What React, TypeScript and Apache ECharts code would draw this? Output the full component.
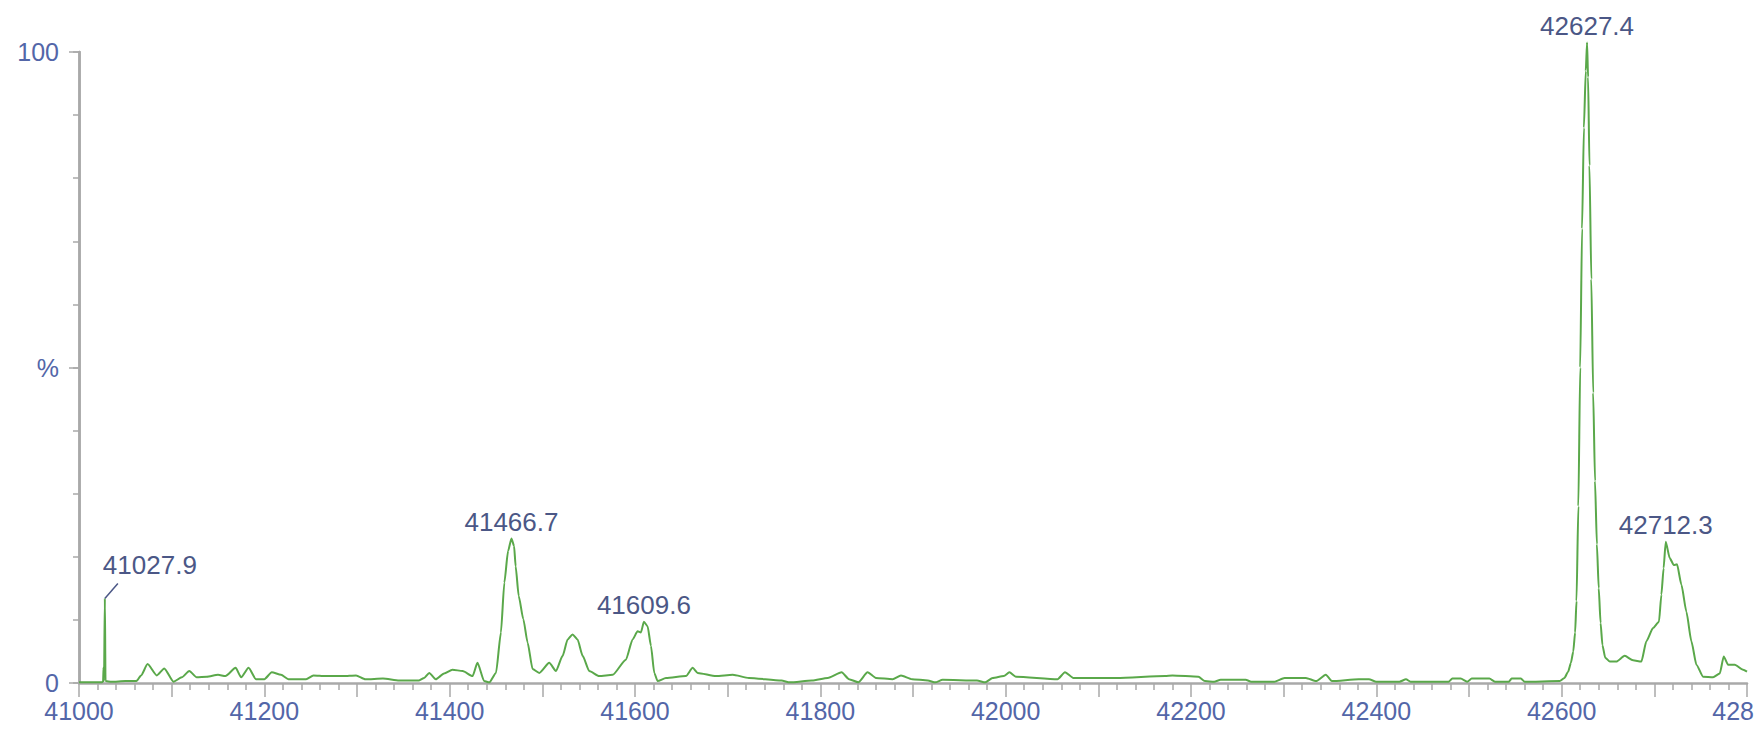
import React, { useEffect, useRef } from "react";
import * as echarts from "echarts";

// Deconvoluted mass spectrum: m/z (Da) and relative intensity (%)
const massAxis = [
  41000, 41012, 41024, 41026, 41026.5, 41027, 41027.9, 41028.6, 41035, 41050,
  41062, 41067, 41074, 41084, 41092, 41102, 41111, 41119, 41127, 41138,
  41150, 41158, 41169, 41175, 41183, 41191, 41200, 41208, 41218, 41226,
  41245, 41253, 41266, 41285, 41299, 41309, 41328, 41345.5, 41367, 41372.5,
  41378, 41385, 41394, 41403, 41414, 41424.7, 41430, 41437.3, 41442.7, 41450,
  41455.3, 41459, 41463, 41466.7, 41469.5, 41471.2, 41474.5, 41479.5, 41484.1, 41489.5,
  41496.7, 41507.5, 41514.7, 41521.9, 41527.3, 41532.6, 41538, 41543.5, 41550.6, 41561.4,
  41575.9, 41590.2, 41597.4, 41602.8, 41606.4, 41609.6, 41613.6, 41617.2, 41620.8, 41624.4,
  41633.4, 41655, 41662.2, 41667.6, 41687.4, 41705.4, 41723, 41758, 41767, 41791,
  41808, 41823, 41831, 41841, 41851, 41860, 41878, 41887, 41899, 41916,
  41924, 41932, 41969, 41978, 41986, 41998, 42004, 42011, 42056, 42064,
  42073, 42120, 42172, 42180, 42208, 42215, 42225, 42232, 42259, 42265,
  42290, 42301, 42324, 42335, 42345.5, 42352, 42381, 42392, 42400, 42425,
  42432, 42437, 42478, 42482, 42491, 42498, 42503, 42522, 42528, 42543,
  42546, 42556, 42560, 42598, 42603, 42607, 42610, 42612.5, 42614.5, 42616,
  42618, 42620, 42622, 42624, 42626, 42627.4, 42628.5, 42630, 42632, 42634,
  42636, 42638, 42640, 42642, 42644, 42647, 42652, 42659, 42668, 42677,
  42686, 42691.4, 42698.6, 42705, 42707.6, 42710, 42712.3, 42716.6, 42721, 42724.5,
  42729.2, 42734.6, 42740, 42745.4, 42752.6, 42763.4, 42770.6, 42774.9, 42779.6, 42786.8,
  42795.8, 42800,
];

const intensity = [
  0.1, 0.1, 0.1, 0.2, 2.5, 0.3, 13.4, 0.3, 0.2, 0.3,
  0.3, 1.2, 3.0, 1.2, 2.3, 0.2, 0.9, 1.9, 0.9, 1.0,
  1.3, 1.1, 2.4, 0.9, 2.4, 0.6, 0.6, 1.7, 1.3, 0.6,
  0.6, 1.2, 1.1, 1.1, 1.2, 0.6, 0.7, 0.4, 0.4, 0.8,
  1.6, 0.6, 1.5, 2.1, 1.9, 1.1, 3.2, 0.3, 0.1, 1.6,
  8.0, 15.9, 20.9, 22.9, 21.7, 18.5, 13.8, 10.1, 6.4, 2.2,
  1.6, 3.2, 1.9, 4.3, 6.9, 7.7, 6.9, 4.3, 1.9, 1.1,
  1.3, 3.7, 6.9, 8.2, 8.0, 9.7, 9.0, 5.9, 1.6, 0.3,
  0.8, 1.1, 2.4, 1.6, 1.1, 1.3, 0.8, 0.4, 0.1, 0.4,
  0.8, 1.7, 0.6, 0.1, 1.7, 0.8, 0.6, 1.2, 0.6, 0.4,
  0.1, 0.5, 0.4, 0.1, 0.8, 1.1, 1.7, 1.0, 0.6, 1.7,
  0.8, 0.8, 1.1, 1.2, 1.0, 0.3, 0.2, 0.5, 0.5, 0.2,
  0.2, 0.8, 0.8, 0.3, 1.3, 0.3, 0.6, 0.6, 0.2, 0.2,
  0.6, 0.2, 0.2, 0.7, 0.7, 0.2, 0.7, 0.7, 0.2, 0.2,
  0.7, 0.7, 0.2, 0.3, 0.8, 1.8, 3.2, 5.0, 8.0, 13,
  28, 50, 72, 88, 97, 101.5, 96, 82, 64, 46,
  32, 22, 15, 9.5, 6.0, 4.0, 3.4, 3.4, 4.3, 3.6,
  3.4, 6.6, 8.7, 9.7, 14, 18.2, 22.4, 19.8, 18.7, 18.8,
  15.6, 11.3, 6.6, 2.9, 1.0, 0.9, 1.5, 4.2, 2.9, 2.9,
  2.1, 1.8,
];

// Annotated peak apexes
const peakMasses = [41027.9, 41466.7, 41609.6, 42627.4, 42712.3];
const peakLabels = ["41027.9", "41466.7", "41609.6", "42627.4", "42712.3"];

// Axis tick labels
const xTickLabels = [41000, 41200, 41400, 41600, 41800, 42000, 42200, 42400, 42600, 42800];
const yTickValues = [0, 50, 100];
const yTickTexts = ["0", "%", "100"];

const AXIS_COLOR = "#a9a9a9";
const AXIS_TEXT = "#5366a8";
const PEAK_TEXT = "#4b5786";
const TRACE_COLOR = "#5aa84a";
const FONT = '"Liberation Sans", Arial, sans-serif';
const LEADER_PEAK = 0; // the first annotation is offset with a short leader line

export default function App() {
  const ref = useRef<HTMLDivElement>(null);

  useEffect(() => {
    const el = ref.current;
    if (!el) return;
    const chart = echarts.init(el, undefined, { renderer: "svg" });

    const spectrum = massAxis.map((m, i) => [m, intensity[i]]);
    const peaks = peakMasses.map((m) => [m, intensity[massAxis.indexOf(m)]]);

    chart.setOption({
      animation: false,
      backgroundColor: "#ffffff",
      grid: {
        left: 79,
        right: 7,
        top: 52,
        bottom: 48,
        containLabel: false,
        outerBoundsMode: "none",
      },
      xAxis: {
        type: "value",
        min: 41000,
        max: 42800,
        interval: 100,
        axisLine: { show: true, onZero: false, lineStyle: { color: AXIS_COLOR, width: 2.5 } },
        axisTick: { show: true, length: 14, lineStyle: { color: AXIS_COLOR, width: 1.5 } },
        minorTick: { show: true, splitNumber: 5, length: 7, lineStyle: { color: AXIS_COLOR, width: 1.5 } },
        splitLine: { show: false },
        minorSplitLine: { show: false },
        axisLabel: {
          margin: 15,
          color: AXIS_TEXT,
          fontSize: 25,
          fontFamily: FONT,
          formatter: (v: number) => (xTickLabels.includes(v) ? String(v) : ""),
        },
      },
      yAxis: [
        {
          type: "value",
          min: 0,
          max: 100,
          interval: 10,
          axisLine: { show: true, lineStyle: { color: AXIS_COLOR, width: 2.5 } },
          axisTick: { show: true, length: 6, lineStyle: { color: AXIS_COLOR, width: 1.5 } },
          axisLabel: { show: false },
          splitLine: { show: false },
        },
        {
          type: "value",
          position: "left",
          min: 0,
          max: 100,
          interval: 50,
          axisLine: { show: true, lineStyle: { color: AXIS_COLOR, width: 2.5 } },
          axisTick: { show: true, length: 10, lineStyle: { color: AXIS_COLOR, width: 1.5 } },
          axisLabel: {
            margin: 20,
            color: AXIS_TEXT,
            fontSize: 25,
            fontFamily: FONT,
            formatter: (v: number) => {
              const k = yTickValues.indexOf(v);
              return k >= 0 ? yTickTexts[k] : "";
            },
          },
          splitLine: { show: false },
        },
      ],
      series: [
        {
          type: "line",
          data: spectrum,
          yAxisIndex: 0,
          showSymbol: false,
          symbol: "none",
          smooth: 0.2,
          smoothMonotone: "x",
          clip: false,
          silent: true,
          lineStyle: { color: TRACE_COLOR, width: 2 },
          z: 3,
        },
        {
          type: "custom",
          data: peaks,
          yAxisIndex: 0,
          clip: false,
          silent: true,
          z: 5,
          renderItem: (params: any, api: any) => {
            const pt = api.coord([api.value(0), api.value(1)]);
            const text = peakLabels[params.dataIndex];
            const base = { text, fill: PEAK_TEXT, font: `26px ${FONT}` };
            if (params.dataIndex === LEADER_PEAK) {
              return {
                type: "group",
                children: [
                  {
                    type: "line",
                    shape: { x1: pt[0], y1: pt[1], x2: pt[0] + 13, y2: pt[1] - 15 },
                    style: { stroke: PEAK_TEXT, lineWidth: 1.5 },
                  },
                  {
                    type: "text",
                    x: pt[0] - 2,
                    y: pt[1] - 33,
                    style: { ...base, align: "left", verticalAlign: "middle" },
                  },
                ],
              };
            }
            return {
              type: "text",
              x: pt[0],
              y: pt[1] - 17,
              style: { ...base, align: "center", verticalAlign: "middle" },
            };
          },
        },
      ],
    });

    return () => chart.dispose();
  }, []);

  return (
    <div
      ref={ref}
      style={{ position: "fixed", left: 0, top: 0, width: 1754, height: 731, background: "#fff" }}
    />
  );
}
